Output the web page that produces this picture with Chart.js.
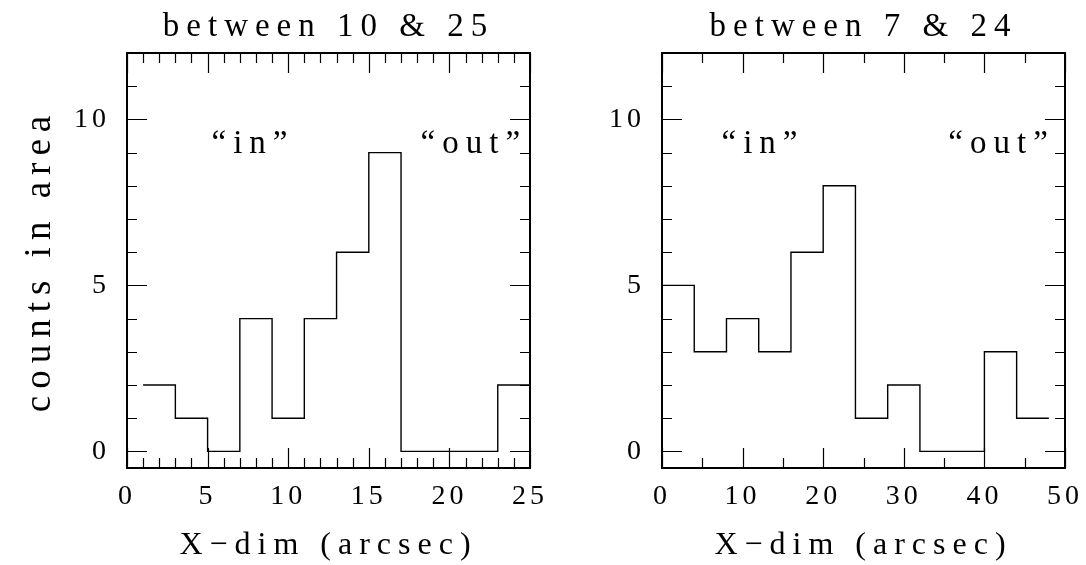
<!DOCTYPE html>
<html>
<head>
<meta charset="utf-8">
<script src="https://cdn.jsdelivr.net/npm/chart.js@4.4.1/dist/chart.umd.min.js"></script>
<style>
  body { margin: 0; background: #fff; }
  .panel { position: absolute; top: 0; height: 565px; }
  #leftBox { left: 0; width: 545px; }
  #rightBox { left: 545px; width: 541px; }
</style>
</head>
<body>
<div class="panel" id="leftBox"><canvas id="leftChart"></canvas></div>
<div class="panel" id="rightBox"><canvas id="rightChart"></canvas></div>
<script>
// histogram bin edges and counts
const leftEdges = [1, 3, 5, 7, 9, 11, 13, 15, 17, 19, 21, 23, 25];
const leftCounts = [2, 1, 0, 4, 1, 4, 6, 9, 0, 0, 0, 2];
const rightEdges = [0, 4, 8, 12, 16, 20, 24, 28, 32, 36, 40, 44, 48];
const rightCounts = [5, 3, 4, 3, 6, 8, 1, 2, 0, 0, 3, 1];

// tick labels
const leftXTicks = [0, 5, 10, 15, 20, 25];
const rightXTicks = [0, 10, 20, 30, 40, 50];
const yTicks = [0, 5, 10];

// texts
const leftTitle = 'between 10 & 25';
const rightTitle = 'between 7 & 24';
const xLabel = 'X\u2212dim (arcsec)';
const yLabel = 'counts in area';
const inOutLabels = ['\u201cin\u201d', '\u201cout\u201d'];
const leftLabelX = [7.6, 21.3];
const rightLabelX = [12.1, 41.7];
const labelY = 9;

const FAMILY = '"Liberation Serif", "DejaVu Serif", serif';
const TITLE_SPACING = 7;
const TICK_SPACING = 4;

function range(from, to, step) {
    const out = [];
    for (let v = from; v <= to + 1e-9; v += step) out.push(v);
    return out;
}

// stepped line: each edge carries the count of the bin that starts there
function toSteps(edges, counts) {
    return edges.map((x, i) => ({ x: x, y: counts[Math.min(i, counts.length - 1)] }));
}

// the plot font is wide, so titles get letter spacing; tick labels less
const spacingPlugin = {
    id: 'spacing',
    beforeDraw(chart) { chart.ctx.letterSpacing = TITLE_SPACING + 'px'; },
    afterDatasetsDraw(chart) { chart.ctx.letterSpacing = TICK_SPACING + 'px'; }
};

// frame, inward ticks on all four sides, and the in/out labels
const framePlugin = {
    id: 'frame',
    afterDraw(chart, args, opts) {
        const ctx = chart.ctx;
        const a = chart.chartArea;
        const x = chart.scales.x;
        const y = chart.scales.y;
        ctx.save();
        ctx.strokeStyle = '#000';
        ctx.lineWidth = 1.2;
        ctx.beginPath();
        opts.xMinor.forEach(v => {
            const px = Math.round(x.getPixelForValue(v)) + 0.5;
            const len = opts.xMajor.includes(v) ? 20 : 10;
            ctx.moveTo(px, a.bottom); ctx.lineTo(px, a.bottom - len);
            ctx.moveTo(px, a.top); ctx.lineTo(px, a.top + len);
        });
        opts.yMinor.forEach(v => {
            const py = Math.round(y.getPixelForValue(v)) + 0.5;
            const len = opts.yMajor.includes(v) ? 20 : 10;
            ctx.moveTo(a.left, py); ctx.lineTo(a.left + len, py);
            ctx.moveTo(a.right, py); ctx.lineTo(a.right - len, py);
        });
        ctx.stroke();
        ctx.lineWidth = 2;
        ctx.strokeRect(a.left, a.top, a.right - a.left, a.bottom - a.top);

        ctx.letterSpacing = TITLE_SPACING + 'px';
        ctx.fillStyle = '#000';
        ctx.font = '33px ' + FAMILY;
        ctx.textAlign = 'center';
        ctx.textBaseline = 'alphabetic';
        opts.labels.forEach((t, i) => {
            ctx.fillText(t, x.getPixelForValue(opts.labelX[i]) + TITLE_SPACING / 2, y.getPixelForValue(labelY));
        });
        ctx.restore();
    }
};

// fixed axis boxes so the plot frame lands where the original has it
function fixBox(size) {
    return s => {
        if (s.isHorizontal()) s.height = size; else s.width = size;
        s.paddingLeft = 0; s.paddingRight = 0;
        s.paddingTop = 0; s.paddingBottom = 0;
    };
}

function makeChart(id, p) {
    const tickFont = { family: FAMILY, size: 28 };
    new Chart(document.getElementById(id), {
        type: 'line',
        data: {
            datasets: [{
                data: toSteps(p.edges, p.counts),
                stepped: 'before',
                borderColor: '#000',
                borderWidth: 1.4,
                pointRadius: 0,
                fill: false,
                tension: 0
            }]
        },
        options: {
            responsive: true,
            maintainAspectRatio: false,
            animation: false,
            layout: {
                autoPadding: false,
                padding: { left: 0, right: p.padRight, top: 0, bottom: 0 }
            },
            plugins: {
                legend: { display: false },
                tooltip: { enabled: false },
                frame: {
                    xMinor: p.xMinor, xMajor: p.xTicks,
                    yMinor: range(0, 12, 1), yMajor: yTicks,
                    labels: inOutLabels, labelX: p.labelX
                }
            },
            scales: {
                x: {
                    type: 'linear',
                    min: p.xMin, max: p.xMax,
                    afterBuildTicks: s => { s.ticks = p.xTicks.map(v => ({ value: v })); },
                    afterFit: fixBox(97),
                    grid: { display: false, drawTicks: false },
                    border: { display: false },
                    ticks: { z: 1, padding: 12, color: '#000', font: tickFont, maxRotation: 0, autoSkip: false },
                    title: {
                        display: true, text: xLabel, color: '#000',
                        font: { family: FAMILY, size: 32 },
                        padding: { top: 0, bottom: 0 }
                    }
                },
                xTop: {
                    type: 'linear',
                    position: 'top',
                    min: p.xMin, max: p.xMax,
                    afterFit: fixBox(53),
                    grid: { display: false, drawTicks: false },
                    border: { display: false },
                    ticks: { display: false },
                    title: {
                        display: true, text: p.title, color: '#000',
                        font: { family: FAMILY, size: 33 },
                        padding: { top: 8, bottom: 0 }
                    }
                },
                y: {
                    type: 'linear',
                    min: -0.5, max: 12,
                    afterBuildTicks: s => { s.ticks = yTicks.map(v => ({ value: v })); },
                    afterFit: fixBox(p.yWidth),
                    grid: { display: false, drawTicks: false },
                    border: { display: false },
                    ticks: { z: 1, padding: 17, color: '#000', font: tickFont },
                    title: {
                        display: p.showYTitle, text: yLabel, color: '#000',
                        font: { family: FAMILY, size: 37 },
                        padding: { top: 18, bottom: 0 }
                    }
                }
            }
        },
        plugins: [spacingPlugin, framePlugin]
    });
}

makeChart('leftChart', {
    edges: leftEdges, counts: leftCounts,
    xMin: 0, xMax: 25, xTicks: leftXTicks, xMinor: range(0, 25, 1),
    title: leftTitle, labelX: leftLabelX,
    yWidth: 127, padRight: 15, showYTitle: true
});

makeChart('rightChart', {
    edges: rightEdges, counts: rightCounts,
    xMin: 0, xMax: 50, xTicks: rightXTicks, xMinor: range(0, 50, 5),
    title: rightTitle, labelX: rightLabelX,
    yWidth: 117, padRight: 21, showYTitle: false
});
</script>
</body>
</html>
